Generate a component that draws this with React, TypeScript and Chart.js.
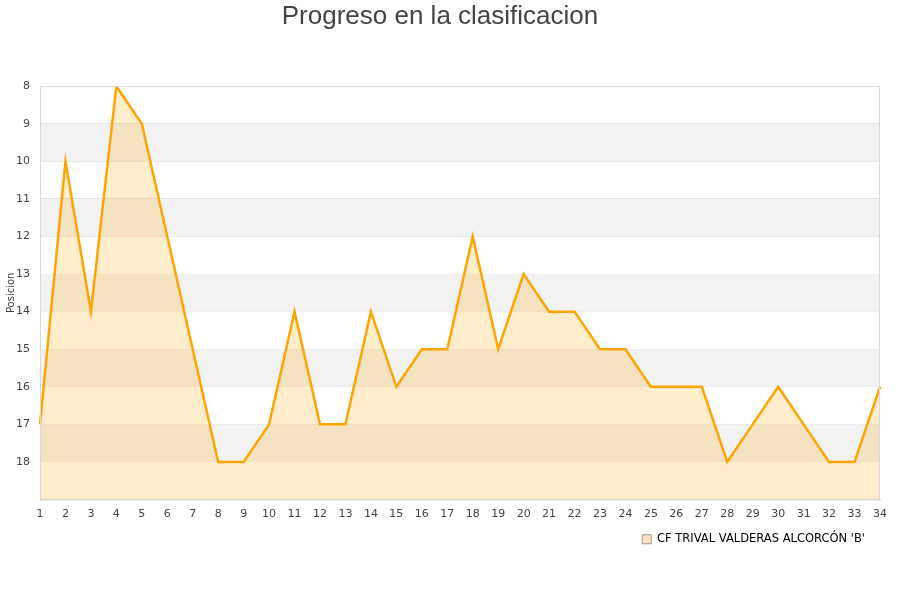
import React, { useEffect, useRef } from 'react';
import { Chart, ChartConfiguration, Plugin, registerables } from 'chart.js';

Chart.register(...registerables);

const jornadas = Array.from({ length: 34 }, (_, i) => String(i + 1));
const posiciones = [
  17, 10, 14, 8, 9, 12, 15, 18, 18, 17, 14, 17, 17, 14, 16, 15, 15, 12, 15, 13,
  14, 14, 15, 15, 16, 16, 16, 18, 17, 16, 17, 18, 18, 16,
];
const equipo = "CF TRIVAL VALDERAS ALCORCÓN 'B'";
const bandasGrises = [9, 11, 13, 15, 17];

const FONT = "'DejaVu Sans', sans-serif";

const bandsPlugin: Plugin = {
  id: 'bands',
  afterLayout: (chart) => {
    // legend sits a little left of the plot's right edge
    const lg = chart.legend;
    if (lg) {
      lg.left -= 11;
      lg.right -= 11;
    }
  },
  beforeDatasetsDraw: (chart) => {
    const { ctx, chartArea } = chart;
    const y = chart.scales.y;
    ctx.save();
    ctx.fillStyle = '#f2f2f2';
    bandasGrises.forEach((v) => {
      const top = y.getPixelForValue(v);
      const bottom = y.getPixelForValue(v + 1);
      ctx.fillRect(chartArea.left, top, chartArea.right - chartArea.left, bottom - top);
    });
    ctx.restore();
  },
  afterDatasetsDraw: (chart) => {
    const { ctx, chartArea } = chart;
    ctx.save();
    ctx.strokeStyle = '#d9d9d9';
    ctx.lineWidth = 1;
    ctx.strokeRect(chartArea.left + 0.5, chartArea.top + 0.5, chartArea.right - chartArea.left - 1, chartArea.bottom - chartArea.top);
    ctx.restore();
  },
};

export default function App() {
  const canvasRef = useRef<HTMLCanvasElement>(null);

  useEffect(() => {
    document.body.style.margin = '0';
    if (!canvasRef.current) return;
    const ctx = canvasRef.current.getContext('2d');
    if (!ctx) return;

    const config: ChartConfiguration = {
      type: 'line',
      data: {
        labels: jornadas,
        datasets: [
          {
            label: equipo,
            data: posiciones,
            borderColor: '#FFA500',
            backgroundColor: 'rgba(255, 165, 0, 0.2)',
            borderWidth: 2.5,
            pointRadius: 0,
            tension: 0,
            fill: { value: 19 },
          },
        ],
      },
      options: {
        animation: false,
        responsive: false,
        layout: { padding: { left: 0, right: 20, top: 0, bottom: 45 } },
        plugins: {
          title: {
            display: true,
            text: 'Progreso en la clasificacion',
            color: '#444',
            font: { family: "'Liberation Sans', Arial, sans-serif", size: 26, weight: 'normal' },
            padding: { top: 1, bottom: 54 },
          },
          legend: {
            position: 'bottom',
            align: 'end',
            labels: {
              color: '#222',
              boxWidth: 9,
              boxHeight: 9,
              font: { family: FONT, size: 11.5 },
              padding: 4,
              generateLabels: () => [
                {
                  text: equipo,
                  fillStyle: 'rgba(255, 200, 120, 0.5)',
                  strokeStyle: '#999',
                  lineWidth: 1,
                  datasetIndex: 0,
                },
              ],
            },
          },
          tooltip: { enabled: false },
        },
        scales: {
          x: {
            type: 'category',
            offset: false,
            grid: { display: false },
            border: { color: '#d9d9d9' },
            ticks: {
              color: '#444',
              font: { family: FONT, size: 11 },
              autoSkip: false,
              maxRotation: 0,
              padding: 0,
            },
            afterFit: (scale) => {
              scale.height = 30;
            },
          },
          y: {
            reverse: true,
            min: 8,
            max: 19,
            grid: { color: '#e2e2e2', drawTicks: false },
            border: { color: '#d9d9d9' },
            ticks: {
              stepSize: 1,
              color: '#444',
              font: { family: FONT, size: 11 },
              padding: 10,
              callback: (v) => (Number(v) === 19 ? '' : String(v)),
            },
            title: {
              display: true,
              text: 'Posicion',
              color: '#444',
              font: { family: FONT, size: 10 },
              padding: { top: 5, bottom: 0 },
            },
            afterFit: (scale) => {
              scale.width = 40;
            },
          },
        },
      },
    };

    const chart = new Chart(ctx, { ...config, plugins: [bandsPlugin] });
    return () => chart.destroy();
  }, []);

  return (
    <div style={{ width: 900, height: 600, background: '#fff' }}>
      <canvas ref={canvasRef} width={900} height={600} />
    </div>
  );
}
